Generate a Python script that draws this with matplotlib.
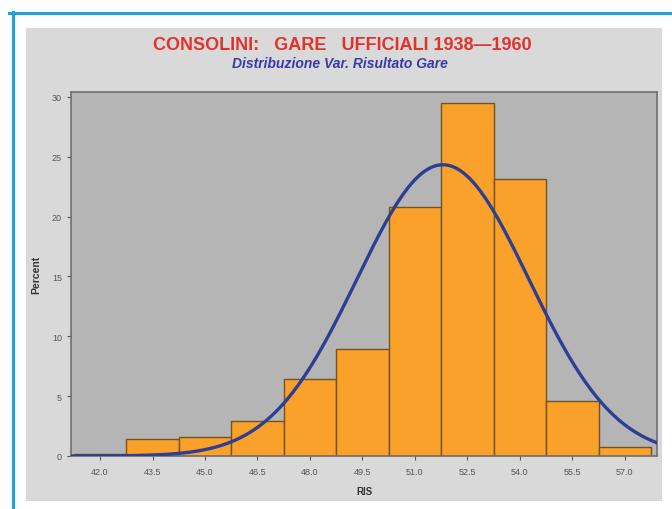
import numpy as np
import matplotlib
matplotlib.use("Agg")
import matplotlib.pyplot as plt
from matplotlib.lines import Line2D
from matplotlib.patches import Rectangle

# bin midpoints (RIS) and percent of races in each bin
ris_mid = [42.0, 43.5, 45.0, 46.5, 48.0, 49.5, 51.0, 52.5, 54.0, 55.5, 57.0]
percent = [0.2, 1.4, 1.6, 2.9, 6.4, 8.9, 20.8, 29.5, 23.1, 4.6, 0.75]
bin_width = 1.5

# fitted normal curve parameters
mu = 51.8
sigma = 2.46

plt.rcParams['font.family'] = ['Liberation Sans', 'DejaVu Sans']

fig = plt.figure(figsize=(6.72, 5.1), dpi=100)
fig.patch.set_facecolor('white')

# light gray panel behind the plot
fig.add_artist(Rectangle((26/672, 1-502/510), (662-26)/672, (502-29)/510,
                         transform=fig.transFigure, facecolor='#d9d9d9',
                         edgecolor='none', zorder=0))
# blue frame lines
fig.add_artist(Line2D([9/672, 1.0], [1-13.5/510, 1-13.5/510],
                      transform=fig.transFigure, color='#1ea3df', lw=2.2))
fig.add_artist(Line2D([12.5/672, 12.5/672], [1-13/510, 0.0],
                      transform=fig.transFigure, color='#1ea3df', lw=2.2))

ax = fig.add_axes([71/672, 1-457/510, (657-71)/672, (457-93)/510])
ax.set_facecolor('#b5b5b5')

ax.bar(ris_mid, percent, width=bin_width, color='#f9a12b',
       edgecolor='#74531e', linewidth=1.0, zorder=2)

xs = np.linspace(41.17, 57.92, 400)
ys = 100 * bin_width * np.exp(-0.5 * ((xs - mu) / sigma) ** 2) / (sigma * np.sqrt(2 * np.pi))
ax.plot(xs, ys, color='#2c3f92', lw=2.4, zorder=3)

ax.set_xlim(41.17, 57.92)
ax.set_ylim(0, 30.4)
ax.set_xticks(ris_mid)
ax.set_xticklabels(['%.1f' % v for v in ris_mid])
ax.set_yticks([0, 5, 10, 15, 20, 25, 30])
ax.tick_params(axis='both', labelsize=6.5, colors='#555555', length=3, width=0.8)
ax.tick_params(axis='x', pad=5)
for s in ax.spines.values():
    s.set_color('#6f6f6f')
    s.set_linewidth(1.2)

ax.set_xlabel('RIS', fontsize=7, fontweight='bold', color='#333333', labelpad=7)
ax.set_ylabel('Percent', fontsize=7.5, fontweight='bold', color='#333333', labelpad=8)

fig.text(342.5/672, 1-45/510, 'CONSOLINI:   GARE   UFFICIALI 1938\u20141960',
         ha='center', va='center', color='#e2332b', fontsize=13, fontweight='bold')
fig.text(340/672, 1-64/510, 'Distribuzione Var. Risultato Gare',
         ha='center', va='center', color='#3a3aa8', fontsize=10,
         fontweight='bold', style='italic')

fig.savefig('out.png', dpi=100)
